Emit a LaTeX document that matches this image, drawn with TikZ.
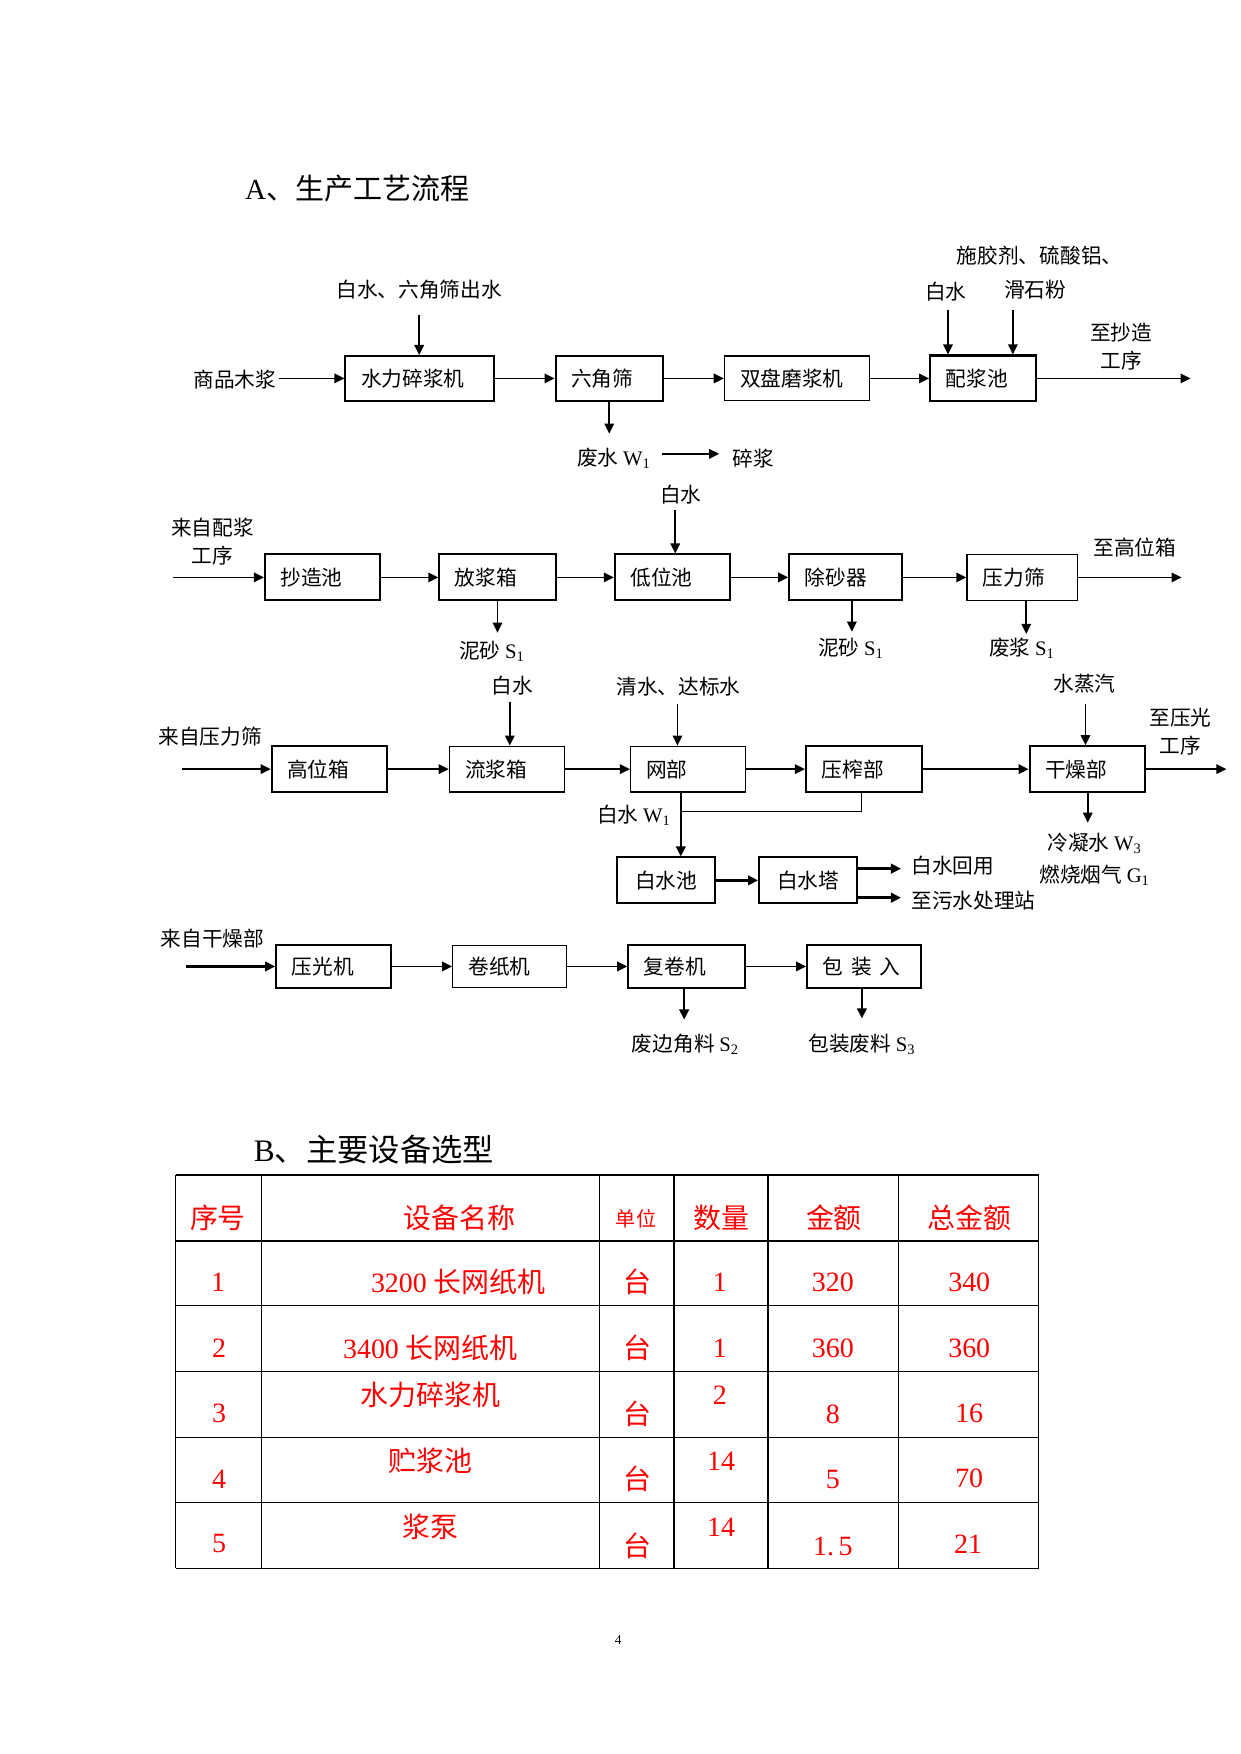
\documentclass[tikz,border=0pt]{standalone}
\usepackage{fontspec}
\setmainfont{Liberation Serif}
\newfontfamily\cjk{Noto Sans CJK SC}
\usetikzlibrary{arrows.meta}
\definecolor{tred}{RGB}{255,0,0}
\tikzset{
 lbl/.style={inner sep=2pt, font=\fontsize{18.5}{25}\selectfont\cjk, align=center},
 box/.style={draw, line width=1.8pt, inner xsep=14pt, inner ysep=0pt, font=\fontsize{18.5}{22}\selectfont\cjk, align=left},
 thinbox/.style={box, line width=1.1pt},
 cbox/.style={draw, line width=1.8pt, inner sep=0pt, font=\fontsize{18.5}{22}\selectfont\cjk, align=center},
 arr/.style={line width=1.5pt, -{Triangle[length=9pt,width=8.5pt]}},
 arrb/.style={line width=2.2pt, -{Triangle[length=9pt,width=8.5pt]}},
 tline/.style={line width=1pt},
 gridl/.style={line width=1.2pt},
 cellc/.style={text=tred, font=\fontsize{25}{25}\selectfont\cjk, inner sep=0pt},
 celln/.style={text=tred, font=\fontsize{25}{25}\selectfont, inner sep=0pt},
}
\begin{document}
\begin{tikzpicture}[x=1pt,y=-1pt]
\useasboundingbox[fill=white] (0,0) rectangle (1110,1569);

% ---- Title A
\node[font=\fontsize{26}{26}\selectfont, anchor=west, inner sep=0pt] (tA) at (219,169) {A{\cjk 、生产工艺流程}};

% ---- Row 1
\node[lbl] (spmj) at (210,340) {商品木浆};
\node[box, minimum width=133pt, minimum height=40pt, text width=105pt] (hp) at (375.5,338.5) {水力碎浆机};
\node[box, minimum width=96pt, minimum height=40pt, text width=68pt] (lj) at (545,338.5) {六角筛};
\node[thinbox, minimum width=130pt, minimum height=40pt, text width=102pt] (sp) at (713,338.5) {双盘磨浆机};
\node[box, minimum width=95pt, minimum height=41pt, text width=67pt] (pj) at (879.5,338.5) {配浆池};
\node[lbl] (bsA) at (375,259) {白水、六角筛出水};
\node[lbl] (sjj) at (930,229) {施胶剂、硫酸铝、};
\node[lbl] (bsB) at (846,261) {白水};
\node[lbl] (hsf) at (926,259) {滑石粉};
\node[lbl] (zcz) at (1003,310) {至抄造\\工序};
\node[lbl] (fsW) at (549,410) {废水 {\rmfamily W\textsubscript{1}}};
\node[lbl] (sj) at (674,410) {碎浆};
\coordinate (o1) at (1065,338.5);
\coordinate (a1) at (375,282);
\coordinate (a2) at (848,277);
\coordinate (a3) at (906,277);
\coordinate (d1) at (545,388);

\draw[arr] (spmj.east |- hp.west) -- (hp.west);
\draw[arr] (hp) -- (lj);
\draw[arr] (lj) -- (sp);
\draw[arr] (sp) -- (pj);
\draw[arr] (pj.east) -- (o1);
\draw[arr] (a1) -- (a1 |- hp.north);
\draw[arr] (a2) -- (a2 |- pj.north);
\draw[arr] (a3) -- (a3 |- pj.north);
\draw[arr] (lj.south) -- (d1);
\draw[arr, shorten <=8pt, shorten >=10pt] ([yshift=4pt]fsW.east) -- ([yshift=4pt]sj.west);

% ---- Row 2
\node[lbl] (lzpj) at (190,484.5) {来自配浆\\工序};
\coordinate (i2) at (155,516.5);
\node[box, minimum width=103pt, minimum height=41pt, text width=75pt] (cz) at (288.5,516.5) {抄造池};
\node[box, minimum width=104pt, minimum height=41pt, text width=76pt] (fj) at (445,516.5) {放浆箱};
\node[box, minimum width=103pt, minimum height=41pt, text width=75pt] (dw) at (601.5,516.5) {低位池};
\node[box, minimum width=101pt, minimum height=41pt, text width=73pt] (cs) at (756.5,516.5) {除砂器};
\node[thinbox, minimum width=99pt, minimum height=41pt, text width=71pt] (ylsh) at (914.5,516.5) {压力筛};
\coordinate (o2) at (1057,516.5);
\node[lbl] (bsC) at (609,442) {白水};
\coordinate (a4) at (604,456);
\node[lbl] (zgwx) at (1015,490) {至高位箱};
\node[lbl] (ns1) at (440,583) {泥砂 {\rmfamily S\textsubscript{1}}};
\node[lbl] (ns2) at (761,580) {泥砂 {\rmfamily S\textsubscript{1}}};
\node[lbl] (fjS) at (914,580) {废浆 {\rmfamily S\textsubscript{1}}};
\coordinate (d2) at (445,566);
\coordinate (d3) at (762,565);
\coordinate (d4) at (918,567);

\draw[arr] (i2) -- (cz.west);
\draw[arr] (cz) -- (fj);
\draw[arr] (fj) -- (dw);
\draw[arr] (dw) -- (cs);
\draw[arr] (cs) -- (ylsh);
\draw[arr] (ylsh.east) -- (o2);
\draw[arr] (a4) -- (a4 |- dw.north);
\draw[arr] (fj.south) -- (d2);
\draw[arr] (d3 |- cs.south) -- (d3);
\draw[arr] (d4 |- ylsh.south) -- (d4);

% ---- Row 3
\node[lbl] (lzyl) at (188,659) {来自压力筛};
\coordinate (i3) at (163,688);
\node[box, minimum width=103pt, minimum height=41pt, text width=75pt] (gw) at (294.5,688) {高位箱};
\node[thinbox, minimum width=103pt, minimum height=41pt, text width=75pt] (lj2) at (453.5,688) {流浆箱};
\node[thinbox, minimum width=103pt, minimum height=41pt, text width=75pt] (wb) at (615.5,688) {网部};
\node[box, minimum width=104pt, minimum height=41pt, text width=76pt] (yz) at (773,688) {压榨部};
\node[box, minimum width=103pt, minimum height=41pt, text width=75pt] (gz) at (972.5,688) {干燥部};
\coordinate (o3) at (1097,688);
\node[lbl] (bsD) at (458,613) {白水};
\coordinate (a5) at (456,628);
\node[lbl] (qs) at (607,614) {清水、达标水};
\coordinate (a6) at (606,630);
\node[lbl] (szq) at (970,612) {水蒸汽};
\coordinate (a7) at (971,630);
\node[lbl] (zyg) at (1056,654.5) {至压光\\工序};
\coordinate (d5) at (973,736);
\node[lbl] (lnW) at (979,754) {冷凝水 {\rmfamily W\textsubscript{3}}};
\node[lbl] (rsyq) at (979,783) {燃烧烟气 {\rmfamily G\textsubscript{1}}};
\node[lbl] (bsW) at (567,729) {白水 {\rmfamily W\textsubscript{1}}};
\node[cbox, minimum width=88pt, minimum height=41pt] (bsc) at (596,787.5) {白水池};
\node[cbox, minimum width=88pt, minimum height=41pt] (bst) at (723,787.5) {白水塔};
\node[lbl, anchor=west] (bshy) at (813,774) {白水回用};
\node[lbl, anchor=west] (zws) at (813,806) {至污水处理站};
\coordinate (j1) at (609,726);
\coordinate (q1) at (806,777);
\coordinate (q2) at (806,803);

\draw[arr] (i3) -- (gw.west);
\draw[arr] (gw) -- (lj2);
\draw[arr] (lj2) -- (wb);
\draw[arr] (wb) -- (yz);
\draw[arr] (yz) -- (gz);
\draw[arr] (gz.east) -- (o3);
\draw[arr] (a5) -- (a5 |- lj2.north);
\draw[arr] (a6) -- (a6 |- wb.north);
\draw[arr] (a7) -- (a7 |- gz.north);
\draw[arr] (d5 |- gz.south) -- (d5);
\draw[arrb] (j1 |- wb.south) -- (j1) -- (j1 |- bsc.north);
\draw[tline] ([xshift=-2pt]yz.south) |- (j1);
\draw[arrb] (bsc) -- (bst);
\draw[arrb] (bst.east |- q1) -- (q1);
\draw[arrb] (bst.east |- q2) -- (q2);

% ---- Row 4
\node[lbl] (lzgz) at (190,840) {来自干燥部};
\coordinate (i4) at (166,864.5);
\node[box, minimum width=103pt, minimum height=38pt, text width=75pt] (ygj) at (298.5,864.5) {压光机};
\node[thinbox, minimum width=102pt, minimum height=38pt, text width=74pt] (jzj) at (456,864.5) {卷纸机};
\node[box, minimum width=104pt, minimum height=38pt, text width=76pt] (fjj) at (614,864.5) {复卷机};
\node[box, minimum width=102pt, minimum height=38pt, text width=74pt] (bz) at (773,864.5) {包\hspace{7pt}装\hspace{7pt}入};
\coordinate (d6) at (612,912);
\coordinate (d7) at (771,911);
\node[lbl] (fbj) at (613,934) {废边角料 {\rmfamily S\textsubscript{2}}};
\node[lbl] (bzfl) at (771,934) {包装废料 {\rmfamily S\textsubscript{3}}};

\draw[arrb] (i4) -- (ygj.west);
\draw[arr] (ygj) -- (jzj);
\draw[arr] (jzj) -- (fjj);
\draw[arr] (fjj) -- (bz);
\draw[arrb] (d6 |- fjj.south) -- (d6);
\draw[arrb] (d7 |- bz.south) -- (d7);

% ---- Title B
\node[font=\fontsize{28}{28}\selectfont, anchor=west, inner sep=0pt] (tB) at (227,1028) {B{\cjk 、主要设备选型}};

% ---- Table
\foreach \x in {157,234,536,603,687,804,929} \draw[gridl] (\x,1051) -- (\x,1403);
\foreach \y in {1051,1110,1168,1227,1286,1344,1403} \draw[gridl] (157,\y) -- (929,\y);

\node[cellc] (h1) at (195,1089) {序号};
\node[cellc] (h2) at (411,1089) {设备名称};
\node[cellc, font=\fontsize{18}{18}\selectfont\cjk] (h3) at (569,1090) {单位};
\node[cellc] (h4) at (645,1089) {数量};
\node[cellc] (h5) at (746,1089) {金额};
\node[cellc] (h6) at (867,1089) {总金额};

\node[celln] (r1a) at (195,1147) {1};
\node[celln] (r1b) at (410,1147) {3200 {\cjk 长网纸机}};
\node[cellc] (r1c) at (570,1147) {台};
\node[celln] (r1d) at (644,1147) {1};
\node[celln] (r1e) at (745,1147) {320};
\node[celln] (r1f) at (867,1147) {340};

\node[celln] (r2a) at (196,1206) {2};
\node[celln] (r2b) at (385,1206) {3400 {\cjk 长网纸机}};
\node[cellc] (r2c) at (570,1206) {台};
\node[celln] (r2d) at (644,1206) {1};
\node[celln] (r2e) at (745,1206) {360};
\node[celln] (r2f) at (867,1206) {360};

\node[celln] (r3a) at (196,1264) {3};
\node[cellc] (r3b) at (385,1248) {水力碎浆机};
\node[cellc] (r3c) at (570,1265) {台};
\node[celln] (r3d) at (644,1248) {2};
\node[celln] (r3e) at (745,1265) {8};
\node[celln] (r3f) at (867,1264) {16};

\node[celln] (r4a) at (196,1323) {4};
\node[cellc] (r4b) at (385,1307) {贮浆池};
\node[cellc] (r4c) at (570,1323) {台};
\node[celln] (r4d) at (645,1307) {14};
\node[celln] (r4e) at (745,1323) {5};
\node[celln] (r4f) at (867,1322) {70};

\node[celln] (r5a) at (196,1381) {5};
\node[cellc] (r5b) at (385,1366) {浆泵};
\node[cellc] (r5c) at (570,1383) {台};
\node[celln] (r5d) at (645,1366) {14};
\node[celln] (r5e) at (745,1383) {1.\hspace{4pt}5};
\node[celln] (r5f) at (866,1381) {21};

% ---- page number
\node[font=\fontsize{12}{12}\selectfont, inner sep=0pt] (pg) at (553,1467) {4};
\end{tikzpicture}
\end{document}
